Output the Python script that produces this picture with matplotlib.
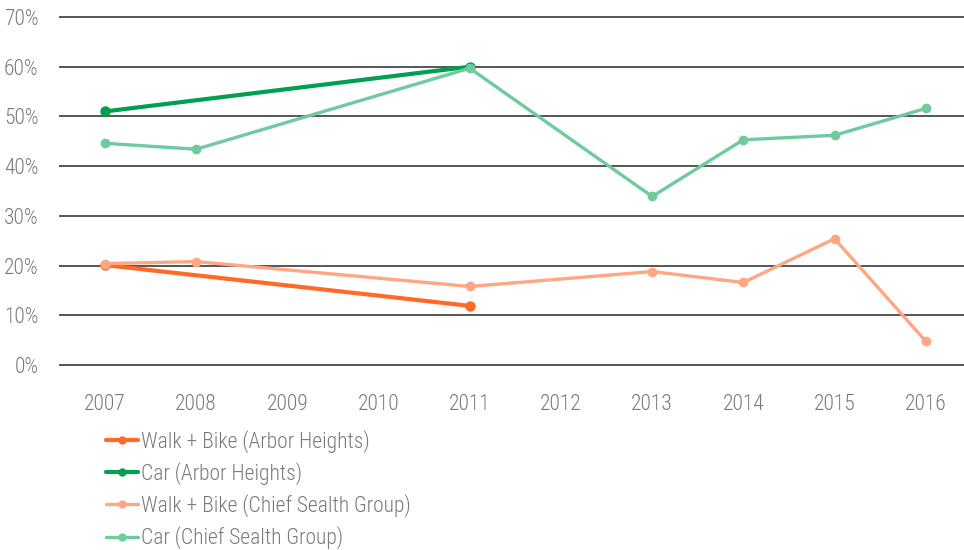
import matplotlib
matplotlib.use("Agg")
import matplotlib.pyplot as plt
from matplotlib.ticker import FuncFormatter
from matplotlib import font_manager

years = ["2007", "2008", "2009", "2010", "2011", "2012", "2013", "2014", "2015", "2016"]
walk_arbor = [20.1, None, None, None, 11.9, None, None, None, None, None]
car_arbor = [51.0, None, None, None, 60.0, None, None, None, None, None]
walk_chief = [20.4, 20.8, None, None, 15.8, None, 18.8, 16.6, 25.4, 4.8]
car_chief = [44.6, 43.4, None, None, 59.7, None, 33.9, 45.3, 46.2, 51.6]
yticks = [0, 10, 20, 30, 40, 50, 60, 70]

series = [
    ("Walk + Bike (Arbor Heights)", walk_arbor, "#FF6A28", 3.0, 6.5),
    ("Car (Arbor Heights)", car_arbor, "#00A04F", 3.0, 6.5),
    ("Walk + Bike (Chief Sealth Group)", walk_chief, "#FFA682", 2.4, 6),
    ("Car (Chief Sealth Group)", car_chief, "#6FCB9D", 2.4, 6),
]


def pick_font():
    fl = font_manager.fontManager.ttflist
    def w(f):
        try:
            return int(f.weight)
        except Exception:
            return {'light': 300, 'normal': 400, 'regular': 400, 'bold': 700}.get(str(f.weight), 400)
    cands = [
        lambda f: f.name == 'Roboto Condensed' and w(f) in (300, 400) and f.style == 'normal',
        lambda f: f.name == 'Open Sans' and f.stretch == 'condensed' and w(f) == 300 and f.style == 'normal',
        lambda f: f.name == 'IBM Plex Sans Condensed' and w(f) == 300 and f.style == 'normal',
    ]
    for c in cands:
        m = sorted([f for f in fl if c(f)], key=lambda f: w(f))
        if m:
            return m[0].fname
    return None


fpath = pick_font()


def fprop(size):
    if fpath:
        return font_manager.FontProperties(fname=fpath, size=size)
    return font_manager.FontProperties(family=['DejaVu Sans'], size=size)


fig = plt.figure(figsize=(9.64, 5.5), dpi=100)
ax = fig.add_axes([59.4 / 964, 1 - 370 / 550, 1 - 59.4 / 964, (370 - 12) / 550])

for label, vals, color, lw, ms in series:
    xs = [i for i, v in enumerate(vals) if v is not None]
    ys = [v for v in vals if v is not None]
    ax.plot(xs, ys, color=color, lw=lw, marker='o', ms=ms, label=label,
            solid_capstyle='round', zorder=3)

ax.set_xlim(-0.5, 9.42)
ax.set_ylim(-1, 71)
ax.set_xticks(range(len(years)))
ax.set_xticklabels(years)
ax.set_yticks(yticks)
ax.yaxis.set_major_formatter(FuncFormatter(lambda v, p: f"{int(v)}%"))
for y in yticks:
    ax.axhline(y, color="#3a3a3a", lw=1.2, zorder=1)
for s in ax.spines.values():
    s.set_visible(False)
ax.tick_params(axis='both', length=0, labelcolor="#7a7a7a")
ax.tick_params(axis='x', pad=17)
ax.tick_params(axis='y', pad=15)
for lab in ax.get_xticklabels() + ax.get_yticklabels():
    lab.set_fontproperties(fprop(15.5))

leg = fig.legend(loc='upper left', bbox_to_anchor=(106 / 964, 1 - 430 / 550),
                 frameon=False, prop=fprop(15.5), handlelength=1.5, handletextpad=0.12,
                 labelspacing=0.43, borderaxespad=0, borderpad=0)
for t in leg.get_texts():
    t.set_color("#7a7a7a")
for h in leg.legend_handles:
    h.set_markersize(5)

fig.savefig("out.png", dpi=100)
